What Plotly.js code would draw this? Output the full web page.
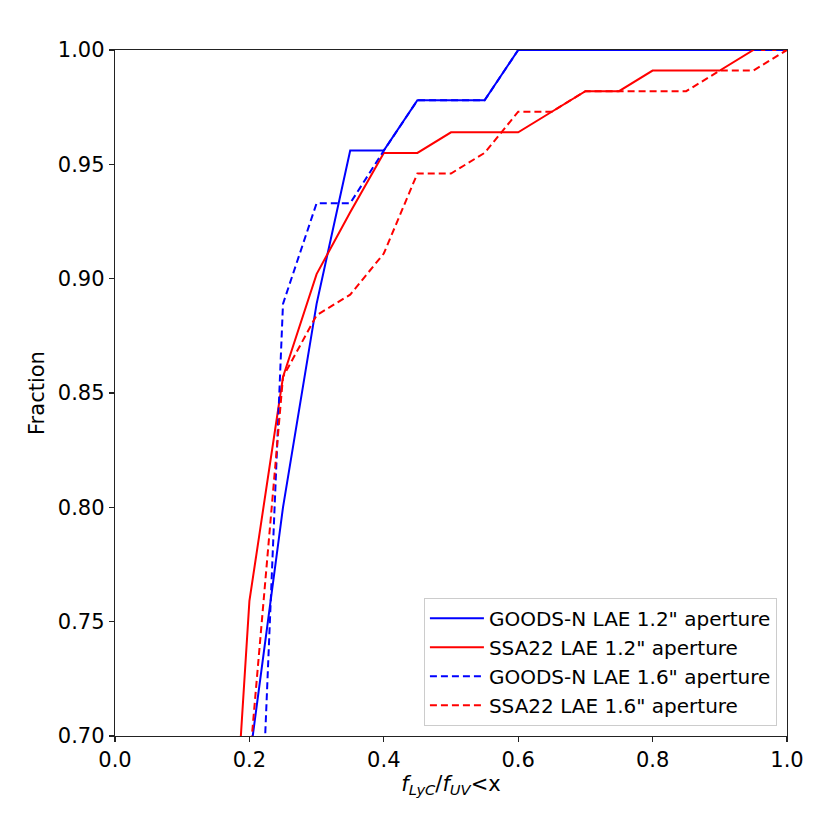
<!DOCTYPE html>
<html>
<head>
<meta charset="utf-8">
<script src="https://cdn.plot.ly/plotly-3.0.1.min.js"></script>
<style>html,body{margin:0;padding:0;background:#fff;}#chart{width:830px;height:830px;}</style>
</head>
<body>
<div id="chart"></div>
<script>
// x grid (f_LyC/f_UV thresholds)
const xGoodsN12 = [0.20, 0.25, 0.30, 0.35, 0.40, 0.45, 0.50, 0.55, 0.60, 0.65, 0.70, 0.75, 0.80, 0.85, 0.90, 0.95, 1.00];
const yGoodsN12 = [0.689, 0.800, 0.889, 0.956, 0.956, 0.978, 0.978, 0.978, 1.000, 1.000, 1.000, 1.000, 1.000, 1.000, 1.000, 1.000, 1.000];

const xSSA12 = [0.15, 0.20, 0.25, 0.30, 0.35, 0.40, 0.45, 0.50, 0.55, 0.60, 0.65, 0.70, 0.75, 0.80, 0.85, 0.90, 0.95, 1.00];
const ySSA12 = [0.527, 0.759, 0.857, 0.902, 0.929, 0.955, 0.955, 0.964, 0.964, 0.964, 0.973, 0.982, 0.982, 0.991, 0.991, 0.991, 1.000, 1.000];

const xGoodsN16 = [0.20, 0.25, 0.30, 0.35, 0.40, 0.45, 0.50, 0.55, 0.60, 0.65, 0.70, 0.75, 0.80, 0.85, 0.90, 0.95, 1.00];
const yGoodsN16 = [0.533, 0.889, 0.933, 0.933, 0.956, 0.978, 0.978, 0.978, 1.000, 1.000, 1.000, 1.000, 1.000, 1.000, 1.000, 1.000, 1.000];

const xSSA16 = [0.20, 0.25, 0.30, 0.35, 0.40, 0.45, 0.50, 0.55, 0.60, 0.65, 0.70, 0.75, 0.80, 0.85, 0.90, 0.95, 1.00];
const ySSA16 = [0.6875, 0.857, 0.884, 0.893, 0.911, 0.946, 0.946, 0.955, 0.973, 0.973, 0.982, 0.982, 0.982, 0.982, 0.991, 0.991, 1.000];

const seriesNames = ['GOODS-N LAE 1.2" aperture', 'SSA22 LAE 1.2" aperture', 'GOODS-N LAE 1.6" aperture', 'SSA22 LAE 1.6" aperture'];
const xTicks = [0.0, 0.2, 0.4, 0.6, 0.8, 1.0];
const xTickText = ['0.0', '0.2', '0.4', '0.6', '0.8', '1.0'];
const yTicks = [0.70, 0.75, 0.80, 0.85, 0.90, 0.95, 1.00];
const yTickText = ['0.70', '0.75', '0.80', '0.85', '0.90', '0.95', '1.00'];

const font = 'DejaVu Sans, sans-serif';
const traces = [
  {x: xGoodsN12, y: yGoodsN12, name: seriesNames[0], mode: 'lines', line: {color: '#0000ff', width: 2}},
  {x: xSSA12, y: ySSA12, name: seriesNames[1], mode: 'lines', line: {color: '#ff0000', width: 2}},
  {x: xGoodsN16, y: yGoodsN16, name: seriesNames[2], mode: 'lines', line: {color: '#0000ff', width: 2, dash: '7px,4px'}},
  {x: xSSA16, y: ySSA16, name: seriesNames[3], mode: 'lines', line: {color: '#ff0000', width: 2, dash: '7px,4px'}}
];

const layout = {
  width: 830, height: 830,
  margin: {l: 115, r: 43, t: 50, b: 94},
  paper_bgcolor: '#ffffff', plot_bgcolor: '#ffffff',
  font: {family: font, size: 21, color: '#000'},
  showlegend: true,
  legend: {
    x: 0.985, y: 0.015, xanchor: 'right', yanchor: 'bottom',
    bgcolor: 'rgba(255,255,255,0.8)', bordercolor: '#cccccc', borderwidth: 1,
    font: {family: font, size: 20, color: '#000'},
    traceorder: 'normal', itemwidth: 54, tracegroupgap: 0
  },
  xaxis: {
    range: [0, 1], tickvals: xTicks, ticktext: xTickText,
    showgrid: false, zeroline: false, showline: true, mirror: true,
    linecolor: '#222', linewidth: 1.2, ticks: 'outside', ticklen: 5, tickwidth: 1.2, tickcolor: '#222',
    tickfont: {family: font, size: 21},
    title: {text: '<i>f</i><sub><i>LyC</i></sub>/<i>f</i><sub><i>UV</i></sub>&lt;x', font: {family: font, size: 21}, standoff: 4}
  },
  yaxis: {
    range: [0.70, 1.0], tickvals: yTicks, ticktext: yTickText,
    showgrid: false, zeroline: false, showline: true, mirror: true,
    linecolor: '#222', linewidth: 1.2, ticks: 'outside', ticklen: 5, tickwidth: 1.2, tickcolor: '#222',
    tickfont: {family: font, size: 21},
    title: {text: 'Fraction', font: {family: font, size: 21}, standoff: 7}
  }
};

Plotly.newPlot('chart', traces, layout, {displayModeBar: false, staticPlot: true});
</script>
</body>
</html>
